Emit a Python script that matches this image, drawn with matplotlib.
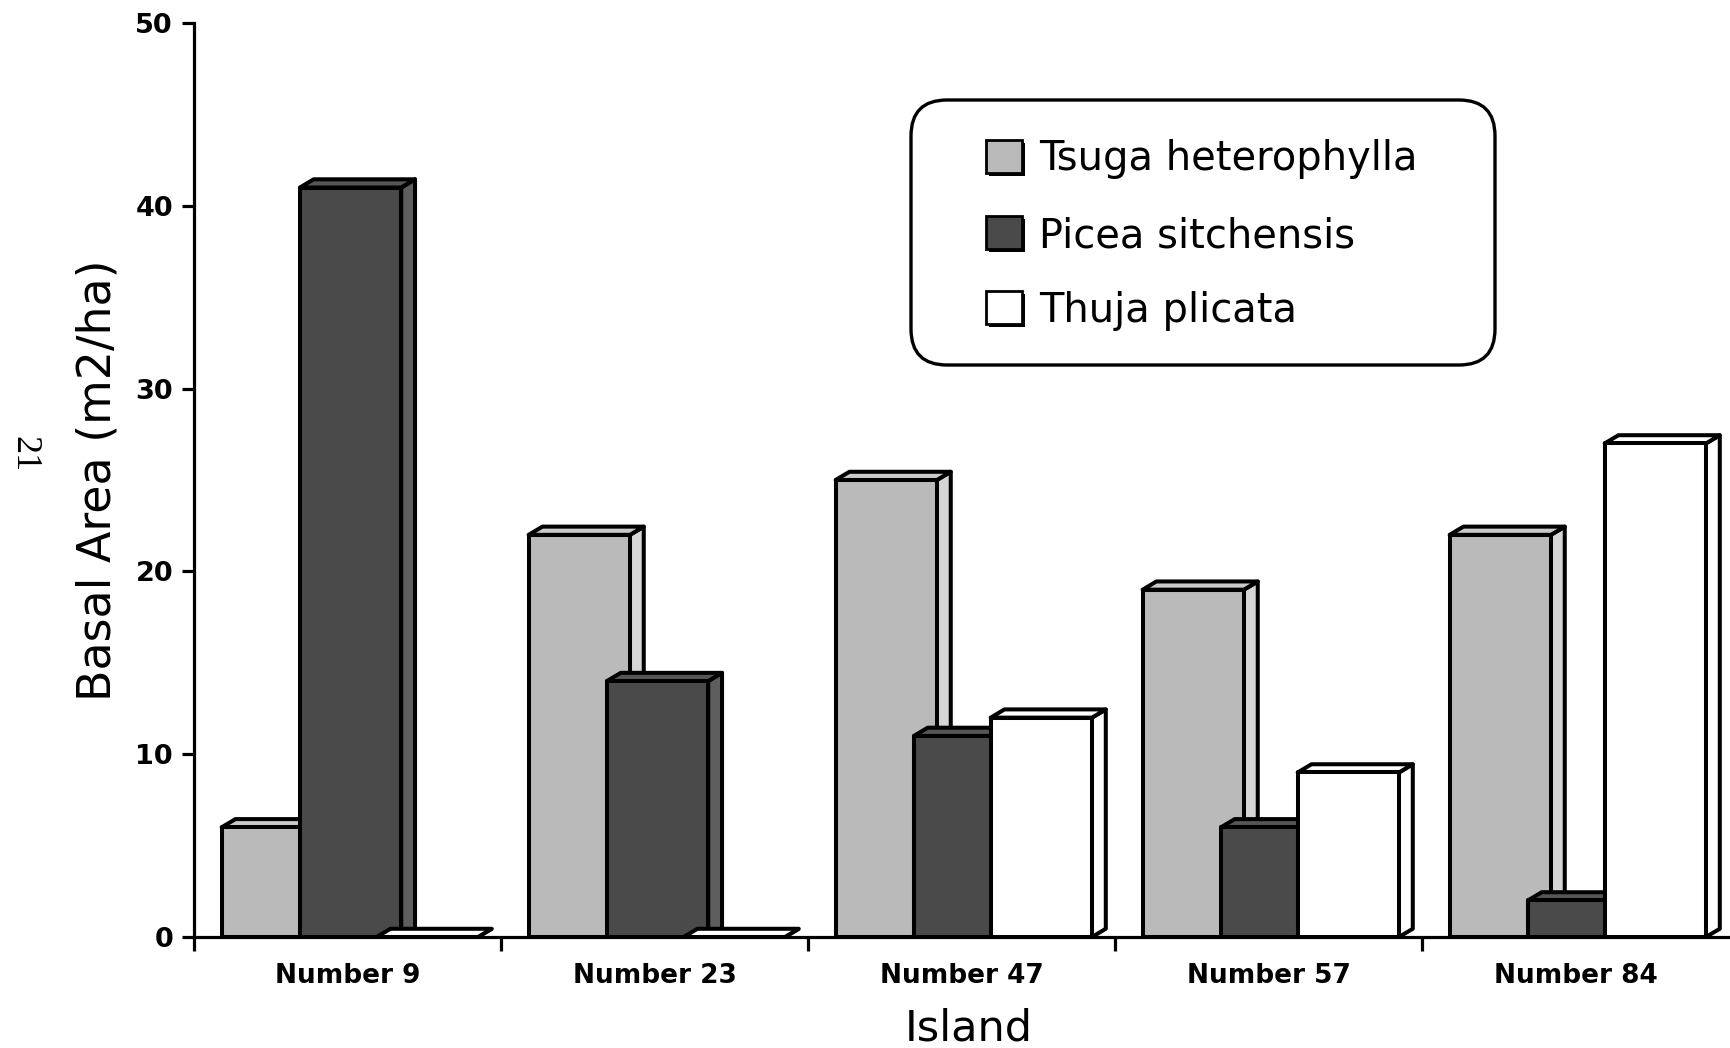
import numpy as np
import matplotlib.pyplot as plt
from matplotlib.patches import Polygon, FancyBboxPatch, Rectangle
from matplotlib.transforms import Affine2D

# data (basal area, m2/ha)
islands = ['Number 9', 'Number 23', 'Number 47', 'Number 57', 'Number 84']
species = ['Tsuga heterophylla', 'Picea sitchensis', 'Thuja plicata']
tsuga = [6, 22, 25, 19, 22]
picea = [41, 14, 11, 6, 2]
thuja = [0, 0, 12, 9, 27]

W, H = 1730, 1048
fig = plt.figure(figsize=(W / 100, H / 100), dpi=100)
ax = fig.add_axes([194 / W, (H - 937) / H, 1535 / W, 914 / H])

x = np.arange(len(islands))
bar_w = 0.33
dx, dy = 0.045, 0.45   # fake 3d depth
lw = 2.9

# (offset in group, front, side, top)
styles = [
    (0.09, '#bababa', '#d6d6d6', '#cacaca'),
    (0.345, '#4a4a4a', '#5e5e5e', '#555555'),
    (0.595, 'white', 'white', 'white'),
]


def draw_bars(vals, offset, front, side, top, z):
    bars = ax.bar(x + offset, vals, width=bar_w, align='edge', color=front,
                  edgecolor='black', linewidth=lw, joinstyle='round', zorder=z + 0.2)
    for b in bars:
        x0, w, h = b.get_x(), b.get_width(), b.get_height()
        side_pts = [(x0 + w, 0), (x0 + w + dx, dy), (x0 + w + dx, h + dy), (x0 + w, h)]
        top_pts = [(x0, h), (x0 + dx, h + dy), (x0 + w + dx, h + dy), (x0 + w, h)]
        ax.add_patch(Polygon(side_pts, closed=True, fc=side, ec='black', lw=lw,
                             joinstyle='round', zorder=z))
        ax.add_patch(Polygon(top_pts, closed=True, fc=top, ec='black', lw=lw,
                             joinstyle='round', zorder=z))
    return bars


for i, vals in enumerate([tsuga, picea, thuja]):
    off, fc, sc, tc = styles[i]
    draw_bars(vals, off, fc, sc, tc, 2 + i)

ax.set_xlim(0, 5)
ax.set_ylim(0, 50)
for s in ['top', 'right']:
    ax.spines[s].set_visible(False)
for s in ['left', 'bottom']:
    ax.spines[s].set_linewidth(2.3)
    ax.spines[s].set_zorder(10)

ax.set_yticks(range(0, 51, 10))
ax.tick_params(axis='y', direction='out', length=8.6, width=2.3, pad=6.5, labelsize=19.5)
for lbl in ax.get_yticklabels():
    lbl.set_fontweight('bold')

ax.set_xticks(range(5))
ax.set_xticklabels([])
ax.tick_params(axis='x', which='major', direction='out', length=10, width=2.3)
ax.set_xticks(x + 0.5, minor=True)
ax.set_xticklabels(islands, minor=True, fontsize=19, fontweight='bold')
ax.tick_params(axis='x', which='minor', length=0, pad=19)

ax.set_ylabel('Basal Area (m2/ha)', fontsize=33)
ax.yaxis.set_label_coords(-0.048, 0.5)
ax.set_xlabel('Island', fontsize=31)
ax.xaxis.set_label_coords(0.505, -0.077)

# legend box drawn by hand, coords in image pixels
T = Affine2D().scale(1 / W, 1 / H) + fig.transFigure
fig.add_artist(FancyBboxPatch((911, H - 365), 584, 265,
                              boxstyle='round,pad=0,rounding_size=36',
                              transform=T, fc='white', ec='black', lw=2.4))
row_c = [156, 232, 307]
row_base = [170, 247, 322]
for i, name in enumerate(species):
    fc = styles[i][1]
    yc = H - row_c[i]
    fig.add_artist(Rectangle((989, yc - 19.5), 36, 33, transform=T, fc='black', ec='none'))
    fig.add_artist(Rectangle((986, yc - 16.5), 36, 33, transform=T, fc=fc, ec='black', lw=2))
    fig.text(1039 / W, (H - row_base[i]) / H, name, fontsize=28.8, ha='left', va='baseline')

# page number from the scan
fig.text(24 / W, 1 - 454 / H, '21', rotation=-90, fontsize=26,
         family=['Liberation Serif', 'DejaVu Serif'], ha='center', va='center')

fig.savefig('out.png', dpi=100)
